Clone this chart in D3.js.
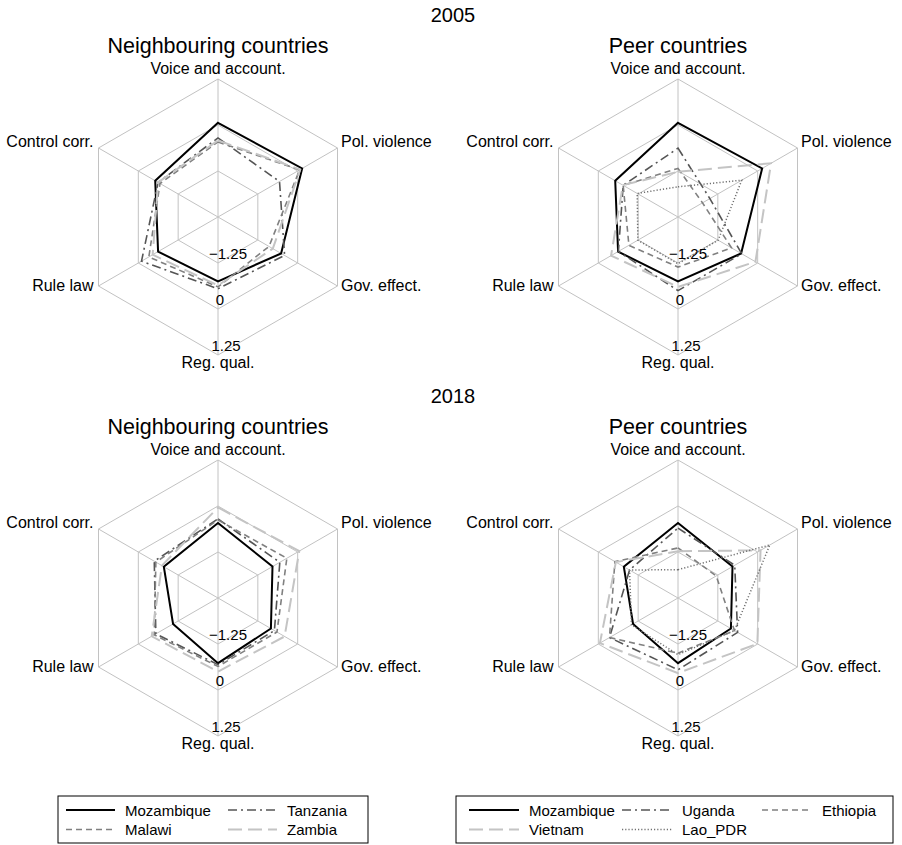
<!DOCTYPE html>
<html>
<head>
<meta charset="utf-8">
<script src="https://cdn.jsdelivr.net/npm/d3@7"></script>
<style>
  body { margin: 0; background: #fff; }
  text { font-family: "Liberation Sans", Arial, Helvetica, sans-serif; fill: #000; }
</style>
</head>
<body>
<svg id="chart" width="902" height="845"></svg>
<script>
// governance indicators, clockwise from the top
var axes = ["Voice and account.", "Pol. violence", "Gov. effect.", "Reg. qual.", "Rule law", "Control corr."]
var ringValues = [-1.25, 0, 1.25]
var years = ["2005", "2018"]
var neighbours = ["Mozambique", "Tanzania", "Malawi", "Zambia"]
var peers = ["Mozambique", "Uganda", "Ethiopia", "Vietnam", "Lao_PDR"]

// 2005 values, same order as axes
var mozambique2005 = [0.06, 0.14, -0.52, -0.75, -0.62, -0.53]
var tanzania2005 = [-0.35, -0.57, -0.41, -0.55, -0.10, -0.62]
var malawi2005 = [-0.46, 0.06, -0.90, -0.60, -0.33, -0.68]
var zambia2005 = [-0.42, 0.08, -0.78, -0.64, -0.45, -0.62]
var uganda2005 = [-0.63, -1.50, -0.50, -0.50, -0.63, -0.78]
var ethiopia2005 = [-1.18, -1.73, -0.82, -1.14, -0.96, -0.78]
var vietnam2005 = [-1.27, 0.42, -0.07, -0.60, -0.40, -0.77]
var lao2005 = [-1.68, -0.50, -1.24, -1.23, -1.24, -1.22]

// 2018 values
var mozambique2018 = [-0.46, -0.79, -0.84, -0.73, -1.09, -0.80]
var tanzania2018 = [-0.35, -0.56, -0.73, -0.69, -0.55, -0.50]
var malawi2018 = [-0.38, -0.34, -0.65, -0.64, -0.50, -0.55]
var zambia2018 = [-0.04, 0.05, -0.41, -0.50, -0.42, -0.74]
var uganda2018 = [-0.60, -0.72, -0.63, -0.55, -0.35, -0.98]
var ethiopia2018 = [-1.14, -1.30, -0.73, -1.00, -0.35, -0.52]
var vietnam2018 = [-1.23, 0.09, -0.01, -0.46, -0.05, -0.55]
var lao2018 = [-1.73, 0.38, -0.73, -0.96, -1.04, -0.98]

var values = {
  "2005": { Mozambique: mozambique2005, Tanzania: tanzania2005, Malawi: malawi2005, Zambia: zambia2005,
            Uganda: uganda2005, Ethiopia: ethiopia2005, Vietnam: vietnam2005, Lao_PDR: lao2005 },
  "2018": { Mozambique: mozambique2018, Tanzania: tanzania2018, Malawi: malawi2018, Zambia: zambia2018,
            Uganda: uganda2018, Ethiopia: ethiopia2018, Vietnam: vietnam2018, Lao_PDR: lao2018 }
}

var styles = {
  Mozambique: { color: "#000", width: 2, dash: null },
  Tanzania: { color: "#555", width: 1.6, dash: "9,4,2,4" },
  Uganda: { color: "#555", width: 1.6, dash: "9,4,2,4" },
  Malawi: { color: "#808080", width: 1.6, dash: "6,4" },
  Ethiopia: { color: "#808080", width: 1.6, dash: "6,4" },
  Zambia: { color: "#c4c4c4", width: 2, dash: "14,6" },
  Vietnam: { color: "#c4c4c4", width: 2, dash: "14,6" },
  Lao_PDR: { color: "#707070", width: 1.5, dash: "1.2,2" }
}

var svg = d3.select("#chart")
var R = 138
var r = d3.scaleLinear().domain([-2.5, 1.25]).range([0, R])
var angle = d3.scalePoint().domain(axes).range([0, 2 * Math.PI * 5 / 6])

function px(a, rad) { return rad * Math.sin(a) }
function py(a, rad) { return -rad * Math.cos(a) }

function radar(cx, cy, title, year, countries) {
  var g = svg.append("g").attr("transform", "translate(" + cx + "," + cy + ")")

  g.append("text").attr("x", 0).attr("y", -R - 26)
    .attr("text-anchor", "middle").style("font-size", "21.5px").text(title)

  // grid
  var ring = d3.lineRadial().angle(function (d) { return angle(d) }).curve(d3.curveLinearClosed)
  ringValues.forEach(function (t) {
    g.append("path").attr("d", ring.radius(r(t))(axes))
      .attr("fill", "none").attr("stroke", "#c2c2c2").attr("stroke-width", 1)
  })
  g.selectAll(".spoke").data(axes).enter().append("line")
    .attr("x1", 0).attr("y1", 0)
    .attr("x2", function (d) { return px(angle(d), R) })
    .attr("y2", function (d) { return py(angle(d), R) })
    .attr("stroke", "#c2c2c2").attr("stroke-width", 1)

  // series
  var line = d3.lineRadial()
    .angle(function (d, i) { return angle(axes[i]) })
    .radius(function (d) { return r(d) })
    .curve(d3.curveLinearClosed)
  countries.forEach(function (c) {
    var s = styles[c]
    g.append("path").attr("d", line(values[year][c]))
      .attr("fill", "none").attr("stroke", s.color).attr("stroke-width", s.width)
      .attr("stroke-dasharray", s.dash).attr("stroke-linejoin", "miter")
  })

  // axis labels
  axes.forEach(function (d) {
    var a = angle(d), x = px(a, R), y = py(a, R)
    var t = g.append("text").style("font-size", "16px").text(d)
    if (Math.abs(x) < 1) {
      t.attr("text-anchor", "middle").attr("x", 0).attr("y", y < 0 ? y - 5 : y + 13)
    } else {
      t.attr("text-anchor", x > 0 ? "start" : "end")
        .attr("x", x > 0 ? x + 3.5 : x - 5)
        .attr("y", y < 0 ? y - 1 : y + 5)
    }
  })

  // ring labels along the bottom spoke
  ringValues.forEach(function (t) {
    var lab = t < 0 ? "\u2212" + Math.abs(t) : String(t)
    g.append("text").attr("text-anchor", "middle")
      .attr("x", 2 + (lab.length - 1) * 2).attr("y", r(t) - 4)
      .style("font-size", "15px").text(lab)
  })
}

var cols = [218, 678]
var rows = [217, 598]
years.forEach(function (yr, i) {
  svg.append("text").attr("x", 453).attr("y", rows[i] - 195)
    .attr("text-anchor", "middle").style("font-size", "20px").text(yr)
  radar(cols[0], rows[i], "Neighbouring countries", yr, neighbours)
  radar(cols[1], rows[i], "Peer countries", yr, peers)
})

// legends
function legend(x0, x1, colStarts, keyLen, names) {
  var y0 = 796, y1 = 843
  svg.append("rect").attr("x", x0).attr("y", y0).attr("width", x1 - x0).attr("height", y1 - y0)
    .attr("fill", "#fff").attr("stroke", "#000").attr("stroke-width", 1)
  var nc = colStarts.length
  names.forEach(function (c, i) {
    var s = styles[c]
    var kx = x0 + colStarts[i % nc]
    var ky = y0 + 14 + Math.floor(i / nc) * 19.5
    svg.append("line").attr("x1", kx).attr("x2", kx + keyLen).attr("y1", ky).attr("y2", ky)
      .attr("stroke", s.color).attr("stroke-width", s.width).attr("stroke-dasharray", s.dash)
    svg.append("text").attr("x", kx + keyLen + 10).attr("y", ky + 5.5)
      .style("font-size", "15px").text(c)
  })
}
legend(58, 368, [8, 170], 49, ["Mozambique", "Tanzania", "Malawi", "Zambia"])
legend(456, 893, [13, 166, 306], 50, peers)
</script>
</body>
</html>
